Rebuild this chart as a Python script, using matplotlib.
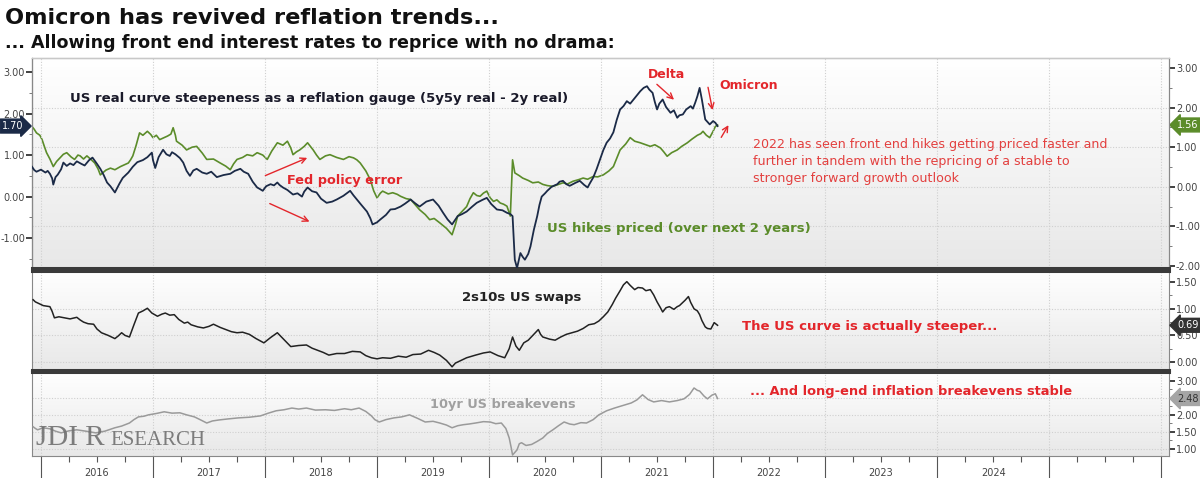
import numpy as np
import matplotlib.pyplot as plt
from matplotlib.colors import LinearSegmentedColormap
from matplotlib.transforms import blended_transform_factory

###############################################################################
# Data (dates as decimal years)
###############################################################################
# US real curve (5y5y real - 2y real), left axis
real_t = [2015.92, 2015.94, 2015.96, 2016.00, 2016.04, 2016.06, 2016.08, 2016.10,
          2016.11, 2016.13, 2016.15, 2016.18, 2016.20, 2016.23, 2016.26, 2016.29,
          2016.32, 2016.36, 2016.39, 2016.43, 2016.46, 2016.50, 2016.53, 2016.56,
          2016.59, 2016.62, 2016.66, 2016.70, 2016.73, 2016.78, 2016.82, 2016.86,
          2016.91, 2016.95, 2016.99, 2017.00, 2017.02, 2017.05, 2017.09, 2017.12,
          2017.15, 2017.17, 2017.20, 2017.24, 2017.27, 2017.30, 2017.33, 2017.36,
          2017.39, 2017.44, 2017.48, 2017.52, 2017.57, 2017.63, 2017.69, 2017.73,
          2017.78, 2017.81, 2017.85, 2017.89, 2017.93, 2017.95, 2017.98, 2018.01,
          2018.05, 2018.08, 2018.11, 2018.13, 2018.16, 2018.20, 2018.25, 2018.29,
          2018.33, 2018.35, 2018.38, 2018.42, 2018.46, 2018.50, 2018.55, 2018.60,
          2018.64, 2018.70, 2018.76, 2018.79, 2018.82, 2018.86, 2018.91, 2018.94,
          2018.96, 2019.00, 2019.03, 2019.08, 2019.12, 2019.16, 2019.21, 2019.25,
          2019.30, 2019.34, 2019.38, 2019.44, 2019.50, 2019.55, 2019.59, 2019.63,
          2019.67, 2019.70, 2019.72, 2019.76, 2019.80, 2019.85, 2019.89, 2019.94,
          2019.98, 2020.02, 2020.07, 2020.12, 2020.16, 2020.19, 2020.21, 2020.23,
          2020.25, 2020.28, 2020.30, 2020.32, 2020.35, 2020.37, 2020.40, 2020.43,
          2020.45, 2020.47, 2020.50, 2020.52, 2020.56, 2020.61, 2020.63, 2020.66,
          2020.69, 2020.72, 2020.77, 2020.81, 2020.85, 2020.88, 2020.90, 2020.93,
          2020.96, 2020.99, 2021.02, 2021.05, 2021.08, 2021.11, 2021.14, 2021.17,
          2021.20, 2021.23, 2021.26, 2021.29, 2021.32, 2021.35, 2021.38, 2021.41,
          2021.43, 2021.46, 2021.48, 2021.50, 2021.52, 2021.55, 2021.58, 2021.62,
          2021.65, 2021.68, 2021.70, 2021.73, 2021.76, 2021.80, 2021.82, 2021.84,
          2021.86, 2021.88, 2021.90, 2021.93, 2021.95, 2021.97, 2022.00, 2022.02,
          2022.04]
real_v = [0.72, 0.64, 0.60, 0.65, 0.58, 0.62, 0.55, 0.44,
          0.29, 0.47, 0.53, 0.66, 0.82, 0.74, 0.80, 0.76,
          0.85, 0.79, 0.75, 0.88, 0.94, 0.79, 0.67, 0.52,
          0.34, 0.25, 0.10, 0.31, 0.45, 0.58, 0.72, 0.83,
          0.88, 0.95, 1.06, 0.88, 0.69, 0.95, 1.13, 1.02,
          0.98, 1.07, 1.02, 0.93, 0.82, 0.62, 0.50, 0.63,
          0.67, 0.58, 0.55, 0.60, 0.47, 0.52, 0.55, 0.62,
          0.67, 0.60, 0.55, 0.36, 0.22, 0.19, 0.14, 0.25,
          0.30, 0.27, 0.34, 0.28, 0.22, 0.16, 0.05, 0.08,
          0.00, 0.12, 0.22, 0.13, 0.10, -0.05, -0.15, -0.12,
          -0.07, 0.02, 0.14, 0.03, -0.07, -0.20, -0.36, -0.52,
          -0.67, -0.62, -0.55, -0.44, -0.31, -0.30, -0.24, -0.17,
          -0.07, -0.16, -0.24, -0.12, -0.07, -0.22, -0.39, -0.55,
          -0.67, -0.55, -0.47, -0.42, -0.36, -0.24, -0.15, -0.08,
          -0.03, -0.18, -0.31, -0.33, -0.39, -0.42, -0.47, -1.52,
          -1.72, -1.36, -1.45, -1.52, -1.38, -1.20, -0.80, -0.47,
          -0.20, 0.00, 0.08, 0.14, 0.24, 0.30, 0.36, 0.38,
          0.30, 0.26, 0.33, 0.38, 0.28, 0.22, 0.32, 0.46,
          0.66, 0.89, 1.12, 1.30, 1.40, 1.55, 1.85, 2.10,
          2.18, 2.30, 2.24, 2.34, 2.44, 2.54, 2.62, 2.66,
          2.58, 2.50, 2.28, 2.10, 2.24, 2.34, 2.16, 2.02,
          2.08, 1.90, 1.96, 1.98, 2.10, 2.18, 2.12, 2.26,
          2.42, 2.62, 2.34, 1.86, 1.80, 1.74, 1.82, 1.78,
          1.70]

# US hikes priced over next 2 years, right axis
hikes_t = [2015.92, 2015.94, 2015.96, 2015.99, 2016.01, 2016.03, 2016.05, 2016.08,
           2016.11, 2016.14, 2016.17, 2016.20, 2016.23, 2016.27, 2016.30, 2016.33,
           2016.35, 2016.38, 2016.41, 2016.45, 2016.48, 2016.51, 2016.53, 2016.58,
           2016.62, 2016.66, 2016.71, 2016.75, 2016.78, 2016.80, 2016.82, 2016.85,
           2016.88, 2016.91, 2016.95, 2016.98, 2017.00, 2017.03, 2017.06, 2017.10,
           2017.13, 2017.16, 2017.18, 2017.20, 2017.21, 2017.26, 2017.30, 2017.35,
           2017.39, 2017.44, 2017.48, 2017.54, 2017.60, 2017.65, 2017.69, 2017.72,
           2017.75, 2017.80, 2017.84, 2017.89, 2017.93, 2017.98, 2018.02, 2018.06,
           2018.11, 2018.16, 2018.20, 2018.23, 2018.25, 2018.28, 2018.31, 2018.35,
           2018.38, 2018.41, 2018.43, 2018.46, 2018.49, 2018.54, 2018.58, 2018.64,
           2018.70, 2018.75, 2018.79, 2018.82, 2018.85, 2018.90, 2018.94, 2018.97,
           2019.00, 2019.03, 2019.05, 2019.10, 2019.14, 2019.18, 2019.21, 2019.26,
           2019.30, 2019.34, 2019.38, 2019.43, 2019.47, 2019.51, 2019.56, 2019.62,
           2019.67, 2019.70, 2019.72, 2019.76, 2019.80, 2019.83, 2019.86, 2019.89,
           2019.92, 2019.95, 2019.98, 2020.01, 2020.04, 2020.07, 2020.10, 2020.13,
           2020.16, 2020.19, 2020.21, 2020.23, 2020.27, 2020.30, 2020.35, 2020.39,
           2020.44, 2020.48, 2020.52, 2020.57, 2020.62, 2020.66, 2020.70, 2020.75,
           2020.80, 2020.84, 2020.88, 2020.93, 2020.97, 2021.02, 2021.07, 2021.11,
           2021.14, 2021.17, 2021.22, 2021.26, 2021.30, 2021.35, 2021.40, 2021.44,
           2021.48, 2021.53, 2021.56, 2021.59, 2021.63, 2021.68, 2021.72, 2021.77,
           2021.81, 2021.86, 2021.89, 2021.91, 2021.94, 2021.97, 2022.00, 2022.02,
           2022.04]
hikes_v = [1.52, 1.45, 1.36, 1.30, 1.19, 1.02, 0.86, 0.70,
           0.51, 0.64, 0.73, 0.82, 0.86, 0.75, 0.69, 0.80,
           0.78, 0.70, 0.78, 0.68, 0.60, 0.45, 0.30, 0.42,
           0.47, 0.43, 0.51, 0.56, 0.60, 0.68, 0.78, 1.05,
           1.36, 1.30, 1.40, 1.32, 1.24, 1.30, 1.19, 1.24,
           1.28, 1.33, 1.49, 1.30, 1.15, 1.05, 0.93, 1.00,
           1.02, 0.85, 0.69, 0.70, 0.60, 0.52, 0.43, 0.58,
           0.69, 0.74, 0.81, 0.78, 0.86, 0.80, 0.69, 0.90,
           1.11, 1.05, 1.15, 0.98, 0.81, 0.88, 0.93, 1.02,
           1.11, 1.00, 0.93, 0.80, 0.69, 0.78, 0.81, 0.74,
           0.69, 0.76, 0.73, 0.68, 0.60, 0.40, 0.18, -0.10,
           -0.28, -0.16, -0.11, -0.18, -0.15, -0.19, -0.24, -0.30,
           -0.32, -0.45, -0.58, -0.70, -0.83, -0.80, -0.91, -1.05,
           -1.21, -0.95, -0.74, -0.62, -0.50, -0.30, -0.15, -0.22,
           -0.24, -0.16, -0.11, -0.28, -0.37, -0.33, -0.41, -0.44,
           -0.49, -0.74, 0.68, 0.35, 0.28, 0.22, 0.16, 0.10,
           0.12, 0.06, 0.03, 0.01, 0.06, 0.10, 0.07, 0.14,
           0.18, 0.22, 0.19, 0.26, 0.25, 0.30, 0.40, 0.51,
           0.72, 0.93, 1.08, 1.24, 1.15, 1.11, 1.06, 1.02,
           1.06, 0.98, 0.88, 0.77, 0.86, 0.93, 1.02, 1.11,
           1.20, 1.30, 1.34, 1.40, 1.30, 1.24, 1.40, 1.52,
           1.56]

# 2s10s US swaps
swaps_t = [2015.93, 2015.95, 2015.97, 2016.02, 2016.08, 2016.10, 2016.12, 2016.16,
           2016.21, 2016.26, 2016.32, 2016.35, 2016.38, 2016.42, 2016.47, 2016.50,
           2016.54, 2016.60, 2016.66, 2016.69, 2016.72, 2016.75, 2016.79, 2016.83,
           2016.87, 2016.91, 2016.95, 2016.99, 2017.04, 2017.08, 2017.11, 2017.15,
           2017.19, 2017.23, 2017.28, 2017.31, 2017.34, 2017.40, 2017.45, 2017.50,
           2017.54, 2017.60, 2017.65, 2017.70, 2017.75, 2017.80, 2017.86, 2017.92,
           2017.99, 2018.05, 2018.11, 2018.17, 2018.23, 2018.30, 2018.37, 2018.42,
           2018.47, 2018.52, 2018.57, 2018.64, 2018.71, 2018.78, 2018.85, 2018.90,
           2018.95, 2019.00, 2019.05, 2019.12, 2019.19, 2019.26, 2019.32, 2019.39,
           2019.46, 2019.51, 2019.56, 2019.62, 2019.67, 2019.70, 2019.73, 2019.80,
           2019.88, 2019.95, 2020.01, 2020.08, 2020.14, 2020.18, 2020.21, 2020.24,
           2020.27, 2020.31, 2020.35, 2020.40, 2020.44, 2020.46, 2020.48, 2020.54,
           2020.59, 2020.64, 2020.69, 2020.74, 2020.79, 2020.84, 2020.89, 2020.94,
           2020.98, 2021.02, 2021.06, 2021.10, 2021.13, 2021.17, 2021.20, 2021.23,
           2021.26, 2021.30, 2021.33, 2021.37, 2021.40, 2021.44, 2021.47, 2021.50,
           2021.53, 2021.55, 2021.58, 2021.61, 2021.65, 2021.68, 2021.70, 2021.72,
           2021.75, 2021.78, 2021.80, 2021.83, 2021.86, 2021.88, 2021.90, 2021.93,
           2021.95, 2021.98, 2022.00, 2022.01, 2022.04]
swaps_v = [1.17, 1.13, 1.11, 1.06, 1.04, 0.95, 0.83, 0.85,
           0.83, 0.81, 0.84, 0.79, 0.75, 0.72, 0.71, 0.62,
           0.55, 0.50, 0.44, 0.49, 0.55, 0.50, 0.47, 0.70,
           0.92, 0.96, 1.01, 0.92, 0.86, 0.90, 0.92, 0.88,
           0.89, 0.80, 0.73, 0.75, 0.70, 0.66, 0.64, 0.67,
           0.71, 0.65, 0.61, 0.57, 0.55, 0.56, 0.52, 0.44,
           0.36, 0.46, 0.55, 0.42, 0.29, 0.31, 0.32, 0.26,
           0.22, 0.18, 0.13, 0.16, 0.16, 0.20, 0.19, 0.12,
           0.08, 0.06, 0.08, 0.07, 0.11, 0.09, 0.14, 0.15,
           0.22, 0.18, 0.13, 0.03, -0.09, -0.02, 0.01, 0.08,
           0.13, 0.17, 0.19, 0.12, 0.08, 0.25, 0.47, 0.30,
           0.22, 0.36, 0.41, 0.52, 0.61, 0.52, 0.47, 0.43,
           0.41, 0.47, 0.52, 0.55, 0.58, 0.63, 0.70, 0.72,
           0.77, 0.85, 0.94, 1.08, 1.20, 1.34, 1.45, 1.51,
           1.44, 1.36, 1.40, 1.39, 1.34, 1.36, 1.26, 1.13,
           1.02, 0.94, 1.02, 1.04, 0.99, 1.04, 1.06, 1.10,
           1.16, 1.23, 1.12, 1.00, 0.96, 0.89, 0.78, 0.66,
           0.63, 0.62, 0.70, 0.74, 0.69]

# 10yr US breakevens
bei_t = [2015.93, 2015.95, 2015.97, 2016.02, 2016.08, 2016.13, 2016.18, 2016.25,
         2016.32, 2016.40, 2016.49, 2016.57, 2016.66, 2016.72, 2016.79, 2016.83,
         2016.87, 2016.92, 2016.96, 2017.03, 2017.10, 2017.17, 2017.24, 2017.30,
         2017.37, 2017.42, 2017.48, 2017.53, 2017.59, 2017.67, 2017.76, 2017.86,
         2017.96, 2018.03, 2018.10, 2018.17, 2018.24, 2018.30, 2018.37, 2018.45,
         2018.54, 2018.62, 2018.71, 2018.77, 2018.84, 2018.90, 2018.95, 2018.98,
         2019.02, 2019.08, 2019.15, 2019.22, 2019.29, 2019.36, 2019.43, 2019.50,
         2019.56, 2019.62, 2019.67, 2019.72, 2019.77, 2019.82, 2019.88, 2019.95,
         2020.01, 2020.06, 2020.11, 2020.15, 2020.18, 2020.20, 2020.21, 2020.25,
         2020.27, 2020.29, 2020.33, 2020.38, 2020.43, 2020.48, 2020.52, 2020.57,
         2020.62, 2020.67, 2020.72, 2020.76, 2020.82, 2020.87, 2020.93, 2020.98,
         2021.05, 2021.12, 2021.20, 2021.27, 2021.32, 2021.37, 2021.42, 2021.47,
         2021.54, 2021.61, 2021.68, 2021.74, 2021.79, 2021.83, 2021.86, 2021.88,
         2021.92, 2021.95, 2021.99, 2022.02, 2022.04]
bei_v = [1.65, 1.60, 1.56, 1.62, 1.59, 1.52, 1.47, 1.53,
         1.56, 1.52, 1.47, 1.52, 1.62, 1.67, 1.76, 1.86,
         1.94, 1.96, 2.00, 2.04, 2.09, 2.05, 2.06, 2.00,
         1.94, 1.86, 1.76, 1.82, 1.85, 1.88, 1.91, 1.93,
         1.97, 2.05, 2.12, 2.15, 2.20, 2.17, 2.20, 2.14,
         2.15, 2.13, 2.18, 2.15, 2.20, 2.10, 1.97, 1.86,
         1.79, 1.86, 1.91, 1.94, 2.00, 1.90, 1.79, 1.81,
         1.76, 1.70, 1.62, 1.68, 1.71, 1.73, 1.76, 1.80,
         1.79, 1.74, 1.76, 1.60, 1.32, 1.00, 0.82, 0.97,
         1.15, 1.18, 1.10, 1.13, 1.22, 1.32, 1.45, 1.56,
         1.68, 1.79, 1.73, 1.71, 1.77, 1.76, 1.86, 2.00,
         2.12, 2.20, 2.28, 2.35, 2.44, 2.59, 2.45, 2.38,
         2.42, 2.38, 2.42, 2.47, 2.60, 2.79, 2.72, 2.70,
         2.55, 2.47, 2.58, 2.62, 2.48]

years = [2016, 2017, 2018, 2019, 2020, 2021, 2022, 2023, 2024]

###############################################################################
# Styling
###############################################################################
NAVY = '#1b2a47'
GREEN = '#5b8c2a'
RED = '#e3262b'
GRID = '#cfcfcf'
DOTS = (0, (1, 1.5))

plt.rcParams['font.family'] = ['DejaVu Sans']

fig = plt.figure(figsize=(12, 4.78), dpi=100)
fig.patch.set_facecolor('white')

L, W = 32 / 1200, 1137 / 1200


def px_axes(top, bottom):
    return fig.add_axes([L, 1 - bottom / 478, W, (bottom - top) / 478])


ax_top = px_axes(58, 268)
ax_mid = px_axes(271, 370)
ax_bot = px_axes(372, 456)
ax_topr = ax_top.twinx()
ax_top.set_zorder(ax_topr.get_zorder() + 1)
ax_top.patch.set_visible(False)

bg = LinearSegmentedColormap.from_list('bg', ['#e8e8e8', '#ffffff'])
grad = np.linspace(0, 1, 256).reshape(-1, 1)
for ax in (ax_topr, ax_mid, ax_bot):
    ax.imshow(grad, extent=[0, 1, 0, 1], transform=ax.transAxes, aspect='auto',
              cmap=bg, origin='lower', zorder=0)

for ax in (ax_top, ax_mid, ax_bot):
    ax.set_xlim(2015.92, 2026.07)
    ax.set_xticks(list(range(2016, 2027)))
    ax.set_xticks(np.arange(2016, 2026.1, 0.25), minor=True)
    ax.tick_params(axis='x', which='both', labelbottom=False, length=0)
    for y in range(2016, 2027):
        ax.axvline(y, color=GRID, lw=0.8, ls=DOTS, zorder=1)
    for side in ('top', 'bottom'):
        ax.spines[side].set_color('#3a3a3a')
        ax.spines[side].set_linewidth(2.2)
    ax.spines['left'].set_color('#888888')
    ax.spines['left'].set_linewidth(0.8)

ax_top.spines['top'].set_linewidth(0.8)
ax_top.spines['top'].set_color('#c8c8c8')
ax_bot.spines['bottom'].set_linewidth(0.8)
ax_bot.spines['bottom'].set_color('#888888')

# right-hand scales
ax_topr.set_ylim(-2.05, 3.25)
ax_topr.set_yticks([-2, -1, 0, 1, 2, 3])
ax_topr.set_yticks(np.arange(-2, 3.1, 0.5), minor=True)
for v in [-1, 0, 1, 2]:
    ax_topr.axhline(v, color=GRID, lw=0.8, ls=DOTS, zorder=1)

ax_mid.set_ylim(-0.15, 1.71)
ax_mid.set_yticks([0, 0.5, 1.0, 1.5])
ax_mid.set_yticks(np.arange(0, 1.6, 0.25), minor=True)
ax_bot.set_ylim(0.79, 3.26)
ax_bot.set_yticks([1.0, 1.5, 2.0, 3.0])
ax_bot.set_yticks(np.arange(1.0, 3.1, 0.25), minor=True)
for ax, lines in ((ax_mid, [0, 0.5, 1.0]), (ax_bot, [1.0, 1.5, 2.0, 2.5])):
    for v in lines:
        ax.axhline(v, color=GRID, lw=0.8, ls=DOTS, zorder=1)
    ax.yaxis.tick_right()
    ax.tick_params(axis='y', which='both', left=False)

for ax in (ax_top, ax_topr, ax_mid, ax_bot):
    ax.spines['right'].set_color('#888888')
    ax.spines['right'].set_linewidth(0.8)
    ax.yaxis.set_major_formatter(plt.FuncFormatter(lambda v, p: f'{v:.2f}'))
    ax.tick_params(axis='y', which='major', direction='out', length=4, width=1.3,
                   color='#333333', labelsize=7, labelcolor='#444444', pad=1)
    ax.tick_params(axis='y', which='minor', direction='out', length=2, width=0.6,
                   color='#666666')

# left-hand scale of the top panel
ax_top.set_ylim(-1.72, 3.34)
ax_top.set_yticks([-1, 0, 1, 2, 3])
ax_top.set_yticks(np.arange(-1.5, 3.1, 0.5), minor=True)

# date axis under the bottom panel
ax_bot.tick_params(axis='x', which='major', length=16, width=0.8, color='#555555',
                   direction='out')
ax_bot.tick_params(axis='x', which='minor', length=4, width=0.8, color='#555555',
                   direction='out')
xt = blended_transform_factory(ax_bot.transData, ax_bot.transAxes)
for y in years:
    ax_bot.text(y + 0.5, -0.2, str(y), transform=xt, ha='center', va='center',
                fontsize=7, color='#444444')

###############################################################################
# Series
###############################################################################
ax_topr.plot(hikes_t, hikes_v, color=GREEN, lw=1.2, zorder=3)
ax_top.plot(real_t, real_v, color=NAVY, lw=1.3, zorder=4)
ax_mid.plot(swaps_t, swaps_v, color='#222222', lw=1.1, zorder=3)
ax_bot.plot(bei_t, bei_v, color='#9a9a9a', lw=1.1, zorder=3)

# last value tags
lt = blended_transform_factory(ax_top.transAxes, ax_top.transData)
ax_top.annotate(f'{real_v[-1]:.2f}', xy=(0, real_v[-1]), xycoords=lt,
                xytext=(-6, 0), textcoords='offset points', ha='right', va='center',
                fontsize=7, color='white', annotation_clip=False,
                bbox=dict(boxstyle='rarrow,pad=0.2', fc=NAVY, ec=NAVY))
for ax, v, fc, tc in ((ax_topr, hikes_v[-1], GREEN, 'white'),
                      (ax_mid, swaps_v[-1], '#333333', 'white'),
                      (ax_bot, bei_v[-1], '#a5a5a5', '#333333')):
    rt = blended_transform_factory(ax.transAxes, ax.transData)
    ax.annotate(f'{v:.2f}', xy=(1, v), xycoords=rt, xytext=(6, 0),
                textcoords='offset points', ha='left', va='center', fontsize=7,
                color=tc, annotation_clip=False, zorder=8,
                bbox=dict(boxstyle='larrow,pad=0.2', fc=fc, ec=fc))

###############################################################################
# Annotations
###############################################################################
ax_top.text(2016.26, 2.36, 'US real curve steepeness as a reflation gauge (5y5y real - 2y real)',
            fontsize=9.5, fontweight='bold', color='#1a1a2a', va='center', zorder=6)
ax_top.text(2021.42, 2.94, 'Delta', fontsize=9, fontweight='bold', color=RED,
            va='center', zorder=6)
ax_top.text(2022.06, 2.67, 'Omicron', fontsize=9, fontweight='bold', color=RED,
            va='center', zorder=6)
ax_top.text(2018.20, 0.39, 'Fed policy error', fontsize=9.3, fontweight='bold',
            color=RED, va='center', zorder=6)
ax_top.text(2020.52, -0.77, 'US hikes priced (over next 2 years)', fontsize=9.5,
            fontweight='bold', color=GREEN, va='center', zorder=6)
ax_top.text(2022.36, 0.84, '2022 has seen front end hikes getting priced faster and\n'
            'further in tandem with the repricing of a stable to\n'
            'stronger forward growth outlook', fontsize=9.1, color='#e3403f',
            va='center', linespacing=1.4, zorder=6)

arrows = [((2017.98, 0.48), (2018.40, 0.96)),
          ((2018.02, -0.14), (2018.42, -0.63)),
          ((2021.48, 2.75), (2021.67, 2.29)),
          ((2021.95, 2.70), (2022.00, 2.02)),
          ((2022.06, 1.37), (2022.15, 1.78))]
for start, end in arrows:
    ax_top.annotate('', xy=end, xytext=start, zorder=6,
                    arrowprops=dict(arrowstyle='->', color=RED, lw=1.0))

ax_mid.text(2019.76, 1.21, '2s10s US swaps', fontsize=9.5, fontweight='bold',
            color='#222222', va='center')
ax_mid.text(2022.26, 0.66, 'The US curve is actually steeper...', fontsize=9.5,
            fontweight='bold', color=RED, va='center')
ax_bot.text(2022.33, 2.68, '... And long-end inflation breakevens stable', fontsize=9.4,
            fontweight='bold', color=RED, va='center')
ax_bot.text(2019.47, 2.29, '10yr US breakevens', fontsize=9.3, fontweight='bold',
            color='#a0a0a0', va='center')

# logo
ax_bot.text(2015.955, 1.12, 'JDI R', fontsize=21, family='Liberation Serif',
            color='#707070', alpha=0.9, va='baseline', zorder=5)
ax_bot.text(2016.62, 1.12, 'ESEARCH', fontsize=15, family='Liberation Serif',
            color='#707070', alpha=0.9, va='baseline', zorder=5)

# titles
fig.text(5 / 1200, 1 - 18 / 478, 'Omicron has revived reflation trends...',
         fontsize=16.2, fontweight='bold', va='center', color='#111111')
fig.text(5 / 1200, 1 - 43 / 478,
         '... Allowing front end interest rates to reprice with no drama:',
         fontsize=12.6, fontweight='bold', va='center', color='#111111')

fig.savefig('out.png', dpi=100)
